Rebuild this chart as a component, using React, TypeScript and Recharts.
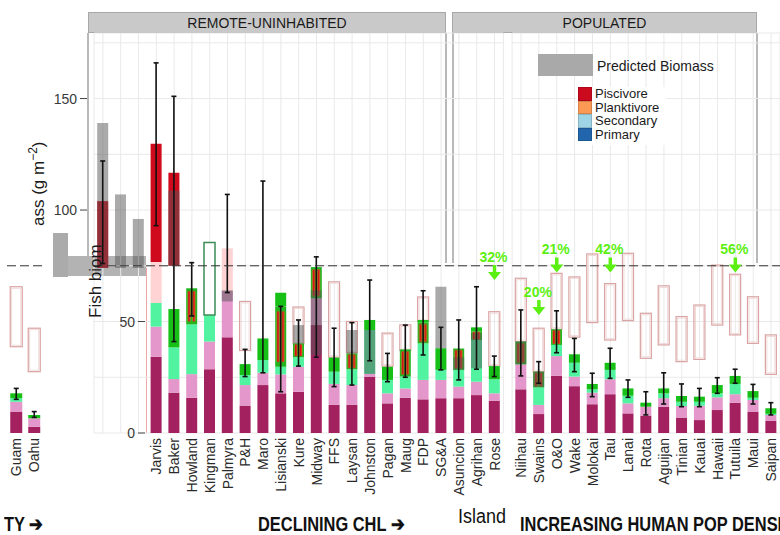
import React from "react";
import { ComposedChart, Bar, XAxis, YAxis, CartesianGrid, ReferenceLine, ReferenceDot } from "recharts";

// slots in drawing order: 2 left-edge islands | 3 predicted-only slots | 20 remote | 15 populated
const islands = [
  "Guam", "Oahu",
  " ", "  ", "   ",
  "Jarvis", "Baker", "Howland", "Kingman", "Palmyra", "P&H", "Maro", "Lisianski", "Kure", "Midway",
  "FFS", "Laysan", "Johnston", "Pagan", "Maug", "FDP", "SG&A", "Asuncion", "Agrihan", "Rose",
  "Niihau", "Swains", "O&O", "Wake", "Molokai", "Tau", "Lanai", "Rota", "Aguijan", "Tinian",
  "Kauai", "Hawaii", "Tutuila", "Maui", "Saipan",
];

const primary = [
  9.6, 2.8,
  0, 0, 0,
  34.2, 18.1, 15.8, 28.6, 42.9, 12.3, 21.5, 17.8, 18.5, 48.4,
  12.6, 12.6, 25.3, 13.3, 15.8, 15.1, 15.6, 15.6, 17, 14.5,
  19.6, 8.5, 25.7, 21, 12.9, 17.4, 8.8, 7.8, 11.8, 6.9, 5.8, 10.3, 13.6, 9.6, 5.4,
];
const secondary = [
  4.4, 3.8,
  0, 0, 0,
  13.5, 6.1, 10.6, 12.4, 20.8, 9.2, 5.5, 8.5, 11.2, 12,
  9.4, 8.9, 1.2, 4.5, 4.2, 8.7, 8.2, 5.2, 6, 3.3,
  11.2, 4.1, 8.8, 4.3, 5.2, 6.7, 4.5, 4, 3.8, 5.2, 6.4, 5.7, 3.8, 5.2, 2.7,
];
const planktivore = [
  1.6, 0,
  0, 0, 0,
  10.6, 14.2, 22.3, 11.9, 0, 4.5, 5.7, 3.4, 4.3, 0,
  5.5, 7.1, 19.7, 6, 5.3, 16.4, 4.5, 7.5, 18.7, 6.3,
  0, 7.9, 5, 6.2, 1.5, 4.2, 3.4, 0, 2.2, 1.9, 1.8, 1.8, 4.6, 1, 0.5,
];
const mixed = [
  0, 0,
  0, 0, 0,
  0, 0, 16.2, 0, 0, 0, 0, 27, 6.2, 14,
  0, 7.1, 0, 0, 12.2, 9.3, 0, 9.6, 3.9, 0,
  10.2, 7, 7, 0, 0, 0, 0, 0, 0, 0, 0, 0, 0, 0, 0,
];
const piscivore = [
  2.2, 1.5,
  0, 0, 0,
  0, 17.2, 0, 0, 0, 4.9, 9.7, 6.2, 0, 0,
  6.3, 0, 4.5, 5.9, 0, 1.2, 9.7, 0, 1.8, 5.9,
  0, 0, 0, 3.8, 2.4, 3.2, 3.3, 1.8, 2.2, 2.6, 2.3, 3.7, 3.6, 3, 2.5,
];
const hollow = [
  0, 0,
  0, 0, 0,
  0, 0, 0, 32.5, 0, 0, 0, 0, 0, 0,
  0, 0, 0, 0, 0, 0, 0, 0, 0, 0,
  0, 0, 0, 0, 0, 0, 0, 0, 0, 0, 0, 0, 0, 0, 0,
];
const gap = [
  0, 0,
  74, 0, 0,
  0, 19.4, 0, 0, 0, 0, 0, 0, 0, 0,
  0, 0, 0, 0, 0, 0, 0, 0, 0, 0,
  0, 0, 0, 0, 0, 0, 0, 0, 0, 0, 0, 0, 0, 0, 0,
];
const pale = [
  0, 0,
  0, 0, 0,
  18.4, 0, 0, 0, 19.1, 0, 0, 0, 0, 0,
  0, 0, 0, 0, 0, 0, 0, 0, 0, 0,
  0, 0, 0, 0, 0, 0, 0, 0, 0, 0, 0, 0, 0, 0, 0,
];
const red = [
  0, 0,
  30, 0, 0,
  53, 41.7, 0, 0, 0, 0, 0, 0, 0, 0,
  0, 0, 0, 0, 0, 0, 0, 0, 0, 0,
  0, 0, 0, 0, 0, 0, 0, 0, 0, 0, 0, 0, 0, 0, 0,
];

const predLow = [
  null, null,
  74, 74, 74,
  null, 75, null, null, 59, null, null, null, 40.2, 35,
  null, 35.7, 26.5, null, null, null, 38, 28.3, 29, null,
  30.8, 20.5, null, null, null, null, null, null, null, null, null, null, null, null, null,
];
const predHigh = [
  null, null,
  139, 107, 96,
  null, 108.7, null, null, 64, null, null, null, 48.4, 64,
  null, 46.2, 46.2, null, null, null, 65.6, 34, 44.7, null,
  41, 27.5, null, null, null, null, null, null, null, null, null, null, null, null, null,
];

const errLow = [
  15.1, 7,
  76, null, null,
  93, 41, 52.5, null, 63, 25.3, 27, 18.5, 30, 34,
  20.8, 21.5, 32.4, 23, 25, 35, 28.3, 23.8, 28.6, 25.3,
  25.6, 22.3, 36, 27.5, 16.3, 24.5, 16, 8.1, 13, 11.8, 11.8, 17.8, 22.3, 13, 8.1,
];
const errHigh = [
  20, 9.6,
  122, null, null,
  166, 151, 76.4, null, 107, 37.5, 113, 56.8, 50.7, 79,
  47, 49.5, 68.6, 35.7, 48.4, 63.8, 47.4, 50.7, 65.6, 34.5,
  55.2, 32, 54.8, 42.4, 26.8, 38, 23.8, 18.5, 27, 22, 20, 24.8, 28.6, 21.8, 13.6,
];

const boxLow = [
  38.7, 27.5,
  null, null, null,
  null, null, null, null, null, 37, null, null, 40, null,
  34, 36, null, 30, 37, 50, null, null, null, 30,
  41, 27.5, 46.5, 43, 49.5, 41.7, 50.4, 33.5, 39.5, 32, 33, 48.4, 44, 40.2, 26.3,
];
const boxHigh = [
  65.6, 47,
  null, null, null,
  null, null, null, null, null, 59, null, null, 56.5, null,
  67.8, 50, null, 44.8, 48.5, 61, null, null, null, 54.4,
  69.4, 47, 71.6, 70, 80.3, 67, 80.6, 53.7, 66, 52.2, 57.4, 75.3, 71.2, 61.1, 44,
];

const yTicks = [0, 25, 50, 75, 100, 125, 150, 175];
const threshold = 75;

const annotations = [
  { island: "Rose", label: "32%", tip: 68.6 },
  { island: "Swains", label: "20%", tip: 52.9 },
  { island: "O&O", label: "21%", tip: 72 },
  { island: "Tau", label: "42%", tip: 72 },
  { island: "Tutuila", label: "56%", tip: 72 },
];

const legendGroups = [
  { name: "Piscivore", color: "#cc0a1e" },
  { name: "Planktivore", color: "#fb9a55" },
  { name: "Secondary", color: "#9fd3e6" },
  { name: "Primary", color: "#2166ac" },
];

const rows = islands.map((name, i) => ({
  name,
  primary: primary[i],
  secondary: secondary[i],
  planktivore: planktivore[i],
  mixed: mixed[i],
  piscivore: piscivore[i],
  hollow: hollow[i],
  gap: gap[i],
  pale: pale[i],
  red: red[i],
  pred: predLow[i] == null ? null : [predLow[i], predHigh[i]],
  err: errLow[i] == null ? null : [errLow[i], errHigh[i]],
  box: boxLow[i] == null ? null : [boxLow[i], boxHigh[i]],
}));

const W = 780;
const H = 535;
const PLOT_TOP = 33;
const PLOT_BOTTOM = 433;
const Y_MAX = 179.4;
const X_AXIS_H = 30;
const Y_AXIS_W = 30;
const SANS = "'Liberation Sans', Arial, sans-serif";

function XTick(props: any) {
  const { x, payload } = props;
  return (
    <text transform={`translate(${x},${PLOT_BOTTOM + 5}) rotate(-90)`} textAnchor="end" dy="0.36em"
      fontSize={14} fill="#2a2a2a" fontFamily={SANS}>
      {String(payload.value).trim()}
    </text>
  );
}

function YTick(props: any) {
  const { y, payload, left } = props;
  const v = payload.value;
  if (v % 50 !== 0) return <g />;
  // the lower half of the figure is shifted right
  const edge = left - 7 + (v < threshold ? 58 : 0);
  return (
    <g>
      <line x1={edge - 7} x2={edge} y1={y} y2={y} stroke="#444" />
      <text x={edge - 10} y={y} dy="0.36em" textAnchor="end" fontSize={14} fill="#3a3a3a" fontFamily={SANS}>{v}</text>
    </g>
  );
}

function Whisker(props: any) {
  const { x, y, width, height, payload } = props;
  if (!payload || payload.err == null || !isFinite(y) || !isFinite(height)) return <g />;
  const cx = x + width / 2;
  const top = Math.min(y, y + height);
  const bot = Math.max(y, y + height);
  return (
    <g stroke="#111" strokeWidth={1.6}>
      <line x1={cx} x2={cx} y1={top} y2={bot} />
      <line x1={cx - 2.5} x2={cx + 2.5} y1={top} y2={top} />
      <line x1={cx - 2.5} x2={cx + 2.5} y1={bot} y2={bot} />
    </g>
  );
}

function OutlineBox(props: any) {
  const { x, y, width, height, payload } = props;
  if (!payload || payload.box == null || !isFinite(y) || !isFinite(height)) return <g />;
  const top = Math.min(y, y + height);
  return (
    <g fill="none">
      <rect x={x} y={top} width={width} height={Math.abs(height)} stroke="#d9a3a3" strokeWidth={1.2} />
      <rect x={x + 1.5} y={top + 1.5} width={width - 3} height={Math.abs(height) - 3} stroke="#eed2d2" strokeWidth={0.8} />
    </g>
  );
}

function PctArrow({ cx, cy, text }: { cx: number; cy: number; text: string }) {
  const c = "#5cf012";
  return (
    <g>
      <text x={cx - 1} y={cy - 18} textAnchor="middle" fontSize={14} fontWeight="bold" fill={c} fontFamily={SANS}>{text}</text>
      <line x1={cx} x2={cx} y1={cy - 15} y2={cy - 6} stroke={c} strokeWidth={3.5} />
      <polygon points={`${cx - 6.5},${cy - 8} ${cx + 6.5},${cy - 8} ${cx},${cy}`} fill={c} />
    </g>
  );
}

function Panel({ data, left, right, withYAxis, grid, id }: any) {
  const notes = annotations.filter((a) => data.some((r: any) => r.name === a.island));
  return (
    <div style={{ position: "absolute", left: 0, top: 0 }}>
      <ComposedChart width={W} height={H} data={data} barCategoryGap="18%"
        margin={{ top: PLOT_TOP, right: W - right, bottom: H - PLOT_BOTTOM - X_AXIS_H, left: withYAxis ? left - Y_AXIS_W : left }}>
        <defs>
          <pattern id={`mix-${id}`} patternUnits="objectBoundingBox" patternContentUnits="objectBoundingBox" width="1" height="1">
            <rect width="1" height="1" fill="#1fb51f" />
            <rect x="0.14" y="0.08" width="0.26" height="0.84" fill="#f0801e" />
            <rect x="0.18" y="0.08" width="0.16" height="0.84" fill="#d3101c" />
            <rect x="0.58" y="0.08" width="0.26" height="0.84" fill="#f0801e" />
            <rect x="0.62" y="0.08" width="0.16" height="0.84" fill="#d3101c" />
          </pattern>
        </defs>
        {grid && <CartesianGrid stroke="#e9e9e9" />}
        <XAxis dataKey="name" interval={0} height={X_AXIS_H} tick={<XTick />} tickLine={false} axisLine={false} />
        <XAxis xAxisId="bx" dataKey="name" hide />
        <XAxis xAxisId="ov" dataKey="name" hide />
        <XAxis xAxisId="er" dataKey="name" hide />
        <YAxis domain={[0, Y_MAX]} ticks={yTicks} interval={0} hide={!withYAxis} width={Y_AXIS_W}
          tick={(p: any) => <YTick {...p} left={left} />} tickLine={false} axisLine={false} />
        <ReferenceLine y={threshold} stroke="#333" strokeDasharray="9 4" />
        <Bar xAxisId="bx" dataKey="box" shape={(p: any) => <OutlineBox {...p} />} isAnimationActive={false} />
        <Bar dataKey="primary" stackId="s" fill="#a3215f" isAnimationActive={false} />
        <Bar dataKey="secondary" stackId="s" fill="#e497cb" isAnimationActive={false} />
        <Bar dataKey="planktivore" stackId="s" fill="#52f3a0" isAnimationActive={false} />
        <Bar dataKey="mixed" stackId="s" fill={`url(#mix-${id})`} isAnimationActive={false} />
        <Bar dataKey="piscivore" stackId="s" fill="#16c016" isAnimationActive={false} />
        <Bar dataKey="hollow" stackId="s" fill="#ffffff" stroke="#3c8c56" strokeWidth={1.5} isAnimationActive={false} />
        <Bar dataKey="gap" stackId="s" fill="none" isAnimationActive={false} />
        <Bar dataKey="pale" stackId="s" fill="#ffd3d3" isAnimationActive={false} />
        <Bar dataKey="red" stackId="s" fill="#cf0a1c" isAnimationActive={false} />
        <Bar xAxisId="ov" dataKey="pred" fill="#555555" fillOpacity={0.5} isAnimationActive={false} />
        <Bar xAxisId="er" dataKey="err" shape={(p: any) => <Whisker {...p} />} isAnimationActive={false} />
        {notes.map((n) => (
          <ReferenceDot key={n.island} x={n.island} y={n.tip} r={0}
            shape={(p: any) => <PctArrow cx={p.cx} cy={p.cy} text={n.label} />} />
        ))}
      </ComposedChart>
    </div>
  );
}

const abs = (s: React.CSSProperties): React.CSSProperties => ({ position: "absolute", ...s });

// condensed caption look: regular face squeezed horizontally
const caption = (left: number, top: number, bold: boolean, sx: number): React.CSSProperties =>
  abs({
    left, top, fontFamily: SANS, fontWeight: bold ? "bold" : "normal", fontSize: 20, lineHeight: "22px",
    whiteSpace: "nowrap", transform: `scaleX(${sx})`, transformOrigin: "0 0", color: "#111",
  });

export default function App() {
  return (
    <div style={abs({ left: 0, top: 0, width: W, height: H, overflow: "hidden", background: "#fff", fontFamily: SANS })}>
      {/* facet strips and upper panel frames */}
      <div style={abs({ left: 88, top: 12, width: 358, height: 21, background: "#c9c9c9", border: "1px solid #a8a8a8", boxSizing: "border-box", fontSize: 14, color: "#1a1a1a", textAlign: "center", lineHeight: "20px" })}>REMOTE-UNINHABITED</div>
      <div style={abs({ left: 452, top: 12, width: 305, height: 21, background: "#c9c9c9", border: "1px solid #a8a8a8", boxSizing: "border-box", fontSize: 14, color: "#1a1a1a", textAlign: "center", lineHeight: "20px" })}>POPULATED</div>
      {[87, 445, 452, 756].map((x) => (
        <div key={x} style={abs({ left: x, top: 33, width: 2, height: 230, background: "#b9b9b9" })} />
      ))}
      <div style={abs({ left: 53, top: 233, width: 15, height: 44, background: "#ababab" })} />
      <div style={abs({ left: 68, top: 256, width: 78, height: 20, background: "#b3b3b3" })} />
      <div style={abs({ left: 146, top: 268, width: 1, height: 165, background: "#f2a6a6" })} />

      <Panel data={rows.slice(0, 2)} left={7} right={43} withYAxis={false} grid={false} id="l" />
      <Panel data={rows.slice(2, 25)} left={94} right={503.4} withYAxis grid id="r" />
      <Panel data={rows.slice(25)} left={512.1} right={780} withYAxis={false} grid id="p" />

      {/* y-axis title, split by the offset */}
      <svg width={W} height={H} style={abs({ left: 0, top: 0 })}>
        <text transform="translate(101,318) rotate(-90)" fontSize={17} fill="#1a1a1a" fontFamily={SANS}>Fish biom</text>
        <text transform="translate(44,226) rotate(-90)" fontSize={17} fill="#1a1a1a" fontFamily={SANS}>
          ass (g m<tspan dy={-7} fontSize={12}>−2</tspan><tspan dy={7}>)</tspan>
        </text>
      </svg>

      {/* legend */}
      <div style={abs({ left: 538, top: 54, width: 55, height: 22, background: "#a9a9a9" })} />
      <div style={abs({ left: 597, top: 57, fontSize: 14, color: "#1a1a1a", lineHeight: "18px", whiteSpace: "nowrap" })}>Predicted Biomass</div>
      <div style={abs({ left: 576, top: 87, width: 90, height: 58, background: "#fff" })}>
        {legendGroups.map((g) => (
          <div key={g.name} style={{ display: "flex", alignItems: "center", height: 13.5 }}>
            <div style={{ width: 14, height: 13.5, background: g.color, marginLeft: 2, boxSizing: "border-box", border: "1px solid rgba(0,0,0,0.15)" }} />
            <div style={{ fontSize: 13, lineHeight: "13.5px", marginLeft: 3, color: "#1a1a1a" }}>{g.name}</div>
          </div>
        ))}
      </div>

      {/* bottom captions */}
      <div style={caption(4, 513, true, 0.82)}>TY ➔</div>
      <div style={caption(258, 513, true, 0.82)}>DECLINING CHL ➔</div>
      <div style={caption(458, 505, false, 0.9)}>Island</div>
      <div style={caption(520, 513, true, 0.82)}>INCREASING HUMAN POP DENSITY ➔</div>
    </div>
  );
}
